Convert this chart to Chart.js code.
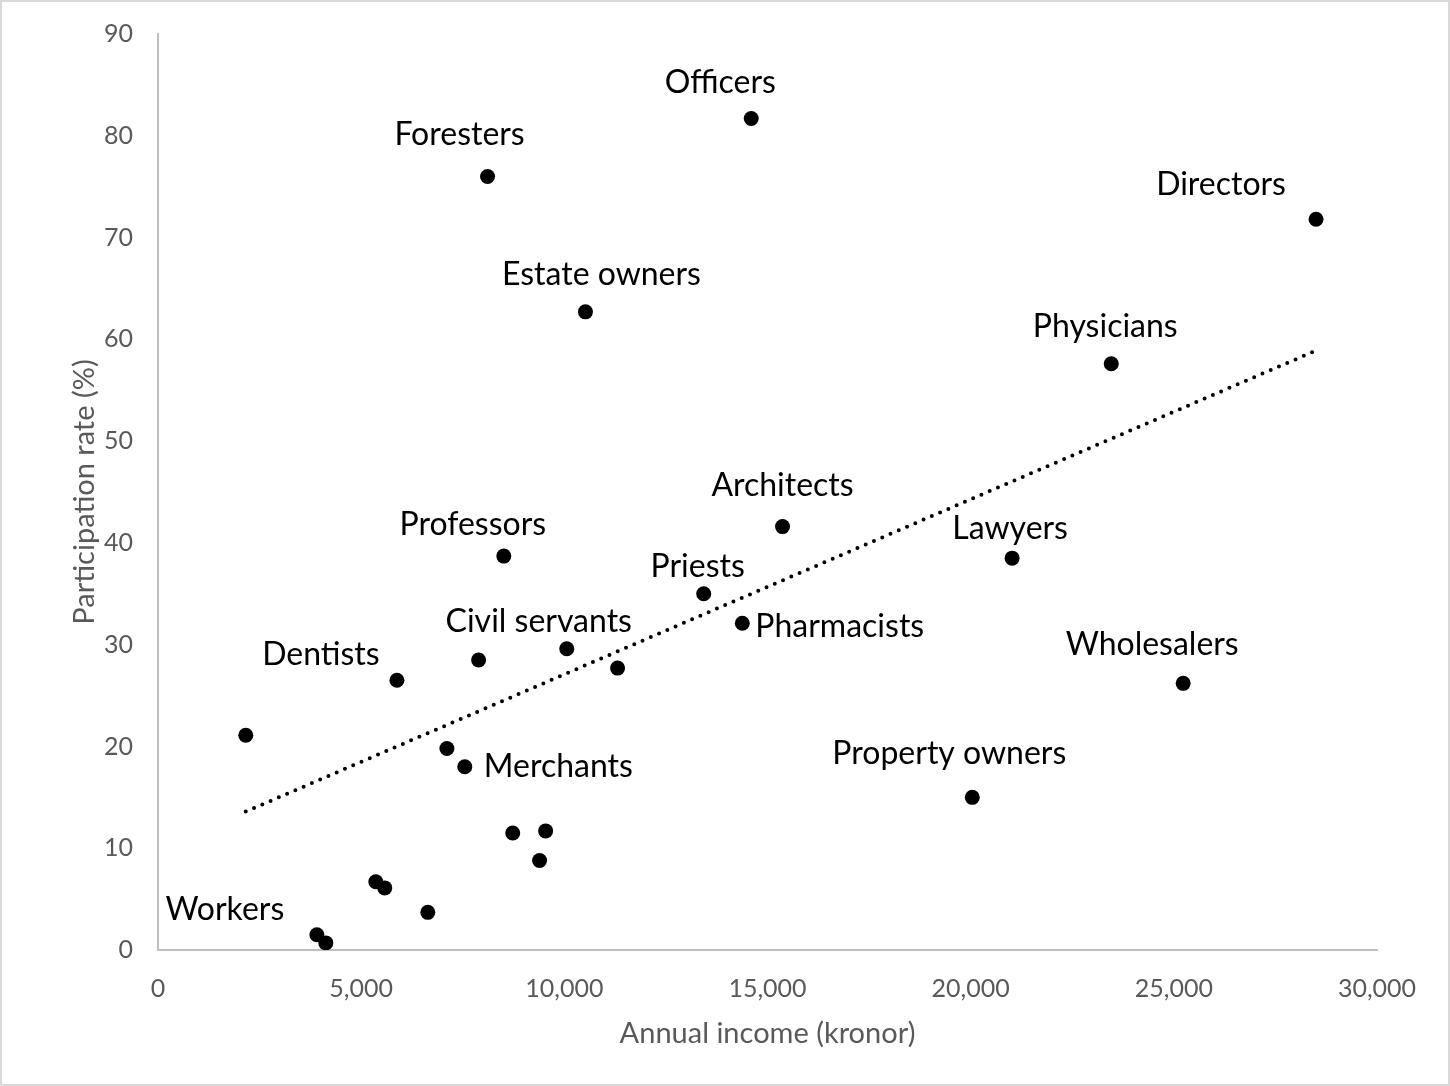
<!DOCTYPE html>
<html>
<head>
<meta charset="utf-8">
<script src="https://cdn.jsdelivr.net/npm/chart.js@4"></script>
<style>
  html, body { margin: 0; padding: 0; background: #fff; }
  #wrap { width: 1450px; height: 1086px; box-sizing: border-box; border: 2px solid #d9d9d9; }
  #chart { display: block; }
</style>
</head>
<body>
<div id="wrap"><canvas id="chart" width="1446" height="1082"></canvas></div>
<script>
// data
const groups = ['Officers', 'Foresters', 'Directors', 'Estate owners', 'Physicians', 'Architects',
    'Professors', 'Lawyers', 'Priests', 'Pharmacists', 'Civil servants', '', '', 'Dentists',
    'Wholesalers', '', '', 'Merchants', 'Property owners', '', '', '', '', '', '', 'Workers', ''];
const income = [14600, 8110, 28500, 10520, 23460, 15370, 8510, 21020, 13430, 14380, 10060, 11310,
    7890, 5880, 25230, 2160, 7110, 7550, 20040, 8730, 9540, 9390, 5360, 5580, 6640, 3910, 4130];
const participation = [81.7, 76.0, 71.8, 62.7, 57.6, 41.6, 38.7, 38.5, 35.0, 32.1, 29.6, 27.7,
    28.5, 26.5, 26.2, 21.1, 19.8, 18.0, 15.0, 11.5, 11.7, 8.8, 6.7, 6.1, 3.7, 1.5, 0.7];
const trendX = [2160, 28500];
const trendY = [13.6, 58.9];
const xTicks = [0, 5000, 10000, 15000, 20000, 25000, 30000];
const yTicks = [0, 10, 20, 30, 40, 50, 60, 70, 80, 90];

// where each label sits relative to its point (px)
const labelPos = {
    'Officers': [-31, -36, 'center'],
    'Foresters': [-28, -42, 'center'],
    'Directors': [-95, -35, 'center'],
    'Estate owners': [16, -37, 'center'],
    'Physicians': [-6, -37, 'center'],
    'Architects': [0, -41, 'center'],
    'Professors': [-31, -31, 'center'],
    'Lawyers': [-2, -29, 'center'],
    'Priests': [-6, -27, 'center'],
    'Pharmacists': [13, 3, 'left'],
    'Civil servants': [-28, -27, 'center'],
    'Dentists': [-76, -26, 'center'],
    'Wholesalers': [-31, -39, 'center'],
    'Merchants': [19, 0, 'left'],
    'Property owners': [-23, -44, 'center'],
    'Workers': [-92, -25, 'center']
};

const pointLabels = {
    id: 'pointLabels',
    afterDatasetsDraw(chart) {
        const ctx = chart.ctx;
        const meta = chart.getDatasetMeta(0);
        ctx.save();
        ctx.font = '32px Lato';
        ctx.fillStyle = '#000';
        ctx.textBaseline = 'middle';
        meta.data.forEach((pt, i) => {
            const name = groups[i];
            if (!name) return;
            const p = labelPos[name];
            ctx.textAlign = p[2];
            ctx.fillText(name, pt.x + p[0], pt.y + p[1]);
        });
        ctx.restore();
    }
};

const tickFont = { family: 'Lato', size: 25 };
const titleFont = { family: 'Lato', size: 29 };
const grey = '#595959';

new Chart(document.getElementById('chart').getContext('2d'), {
    type: 'scatter',
    data: {
        datasets: [
            {
                label: 'Groups',
                data: income.map((x, i) => ({ x: x, y: participation[i] })),
                backgroundColor: '#000',
                borderWidth: 0,
                pointRadius: 7.5,
                pointHoverRadius: 7.5
            },
            {
                type: 'line',
                label: 'Trend',
                data: trendX.map((x, i) => ({ x: x, y: trendY[i] })),
                borderColor: '#000',
                borderWidth: 4,
                borderDash: [0, 9],
                borderCapStyle: 'round',
                pointRadius: 0,
                fill: false
            }
        ]
    },
    options: {
        responsive: false,
        animation: false,
        layout: { padding: { top: 32, right: 71, left: 0, bottom: 0 } },
        plugins: {
            legend: { display: false },
            tooltip: { enabled: false }
        },
        scales: {
            x: {
                type: 'linear',
                min: 0,
                max: 30000,
                afterBuildTicks: s => { s.ticks = xTicks.map(v => ({ value: v })); },
                afterFit: s => { s.height = 1082 - 948; },
                grid: { display: false, drawTicks: false },
                border: { display: true, color: '#bfbfbf', width: 2 },
                ticks: {
                    font: tickFont,
                    color: grey,
                    padding: 24,
                    maxRotation: 0,
                    callback: v => v.toLocaleString('en-US')
                },
                title: {
                    display: true,
                    text: 'Annual income (kronor)',
                    font: titleFont,
                    color: grey,
                    padding: { bottom: 33 }
                }
            },
            y: {
                min: 0,
                max: 90,
                afterBuildTicks: s => { s.ticks = yTicks.map(v => ({ value: v })); },
                afterFit: s => {
                    s.width = 156;
                    s.paddingTop = 0;
                    s.paddingBottom = 0;
                },
                grid: { display: false, drawTicks: false },
                border: { display: true, color: '#bfbfbf', width: 2 },
                ticks: {
                    font: tickFont,
                    color: grey,
                    padding: 25
                },
                title: {
                    display: true,
                    text: 'Participation rate (%)',
                    font: titleFont,
                    color: grey,
                    padding: { top: 65 }
                }
            }
        }
    },
    plugins: [pointLabels]
});
</script>
</body>
</html>
